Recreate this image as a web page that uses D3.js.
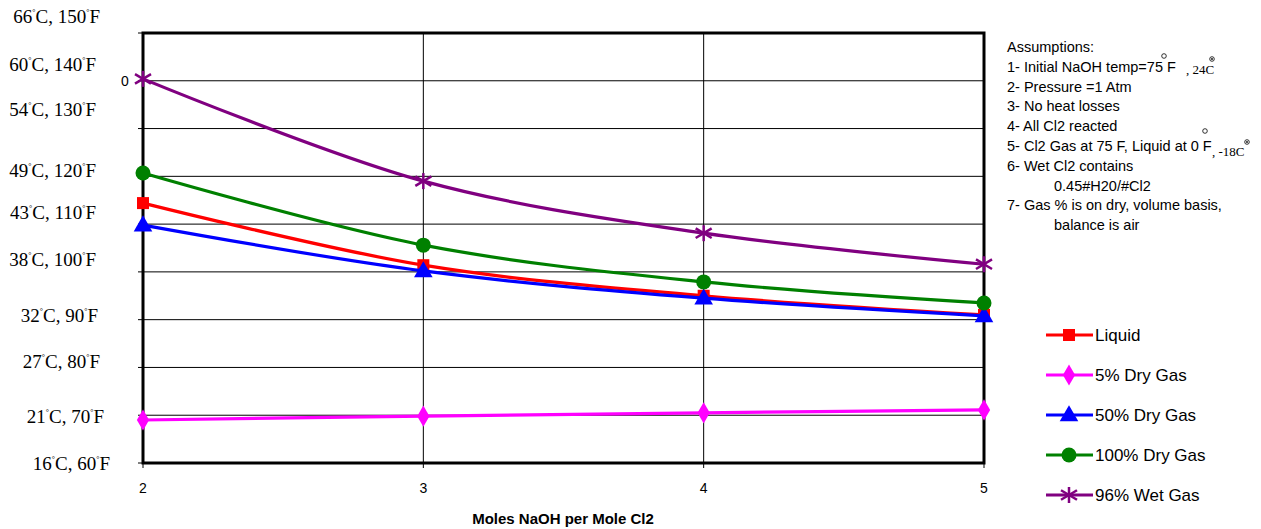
<!DOCTYPE html>
<html>
<head>
<meta charset="utf-8">
<script src="https://cdn.jsdelivr.net/npm/d3@7"></script>
<style>
body { margin:0; background:#fff; }
text { font-family: Arial, "Liberation Sans", sans-serif; }
</style>
</head>
<body>
<div class="c_chart"></div>
<script>
/* DATA
------------------------------------------------------
*/
const moles = [2, 3, 4, 5];
const liquid = [114.4, 101.4, 95.0, 91.0];
const dry5 = [69.0, 69.8, 70.5, 71.1];
const dry50 = [109.8, 100.2, 94.5, 90.8];
const dry100 = [120.7, 105.6, 97.9, 93.5];
const wet96 = [140.4, 119.0, 108.1, 101.6];
const seriesNames = ["Liquid", "5% Dry Gas", "50% Dry Gas", "100% Dry Gas", "96% Wet Gas"];
const yTicksF = [150, 140, 130, 120, 110, 100, 90, 80, 70, 60];
const yTicksC = [66, 60, 54, 49, 43, 38, 32, 27, 21, 16];
const assumptions = [
	"Assumptions:",
	"1- Initial NaOH temp=75 F",
	"2- Pressure =1 Atm",
	"3- No heat losses",
	"4- All Cl2 reacted",
	"5- Cl2 Gas at 75 F, Liquid at 0 F",
	"6- Wet Cl2 contains",
	"0.45#H20/#Cl2",
	"7- Gas % is on dry, volume basis,",
	"balance is air"
];

/* SETUP
------------------------------------------------------
*/
const width = 1261, height = 529;
const plot = {left:143, right:984, top:33, bottom:463};

const svg = d3.select(".c_chart").append("svg")
	.attr("width", width)
	.attr("height", height);

const x = d3.scaleLinear().domain([2, 5]).range([plot.left, plot.right]);
const y = d3.scaleLinear().domain([60, 150]).range([plot.bottom, plot.top]);

const series = [
	{name:seriesNames[0], values:liquid, color:"#ff0000", marker:"square"},
	{name:seriesNames[1], values:dry5, color:"#ff00ff", marker:"diamond"},
	{name:seriesNames[2], values:dry50, color:"#0000ff", marker:"triangle"},
	{name:seriesNames[3], values:dry100, color:"#008000", marker:"circle"},
	{name:seriesNames[4], values:wet96, color:"#800080", marker:"star"}
];

/* GRID
------------------------------------------------------
*/
svg.append("g")
	.selectAll("line")
	.data(yTicksF)
	.enter().append("line")
	.attr("x1", plot.left).attr("x2", plot.right)
	.attr("y1", d => y(d)).attr("y2", d => y(d))
	.attr("stroke", "#000").attr("stroke-width", 1);

svg.append("g")
	.selectAll("line")
	.data(moles)
	.enter().append("line")
	.attr("x1", d => x(d)).attr("x2", d => x(d))
	.attr("y1", plot.top).attr("y2", plot.bottom)
	.attr("stroke", "#000").attr("stroke-width", 1);

// small ticks left and below
svg.append("g").selectAll("line")
	.data(yTicksF).enter().append("line")
	.attr("x1", plot.left - 5).attr("x2", plot.left)
	.attr("y1", d => y(d)).attr("y2", d => y(d))
	.attr("stroke", "#000");
svg.append("g").selectAll("line")
	.data(moles).enter().append("line")
	.attr("x1", d => x(d)).attr("x2", d => x(d))
	.attr("y1", plot.bottom).attr("y2", plot.bottom + 5)
	.attr("stroke", "#000");

// frame
svg.append("rect")
	.attr("x", plot.left).attr("y", plot.top)
	.attr("width", plot.right - plot.left)
	.attr("height", plot.bottom - plot.top)
	.attr("fill", "none").attr("stroke", "#000").attr("stroke-width", 3);

/* AXIS LABELS
------------------------------------------------------
*/
// label nudges to follow the original text boxes
const nudgeY = [-10, -10, -13, 1, -5, -6, 2, 1, 8, 7];
const rightX = [100, 96, 96, 96, 96, 96, 98, 100, 104, 110];

const yl = svg.append("g");
yTicksF.forEach(function(f, i){
	const t = yl.append("text")
		.attr("x", rightX[i])
		.attr("y", y(f) + nudgeY[i])
		.attr("text-anchor", "end")
		.attr("font-size", 19)
		.style("font-family", "'Liberation Serif', 'Times New Roman', serif");
	t.append("tspan").text(yTicksC[i]);
	t.append("tspan").attr("font-size", 8).attr("baseline-shift", 8).text("°");
	t.append("tspan").text("C, " + f);
	t.append("tspan").attr("font-size", 8).attr("baseline-shift", 8).text("°");
	t.append("tspan").text("F");
});

svg.append("text")
	.attr("x", 125).attr("y", y(140) + 5)
	.attr("text-anchor", "middle")
	.attr("font-size", 14)
	.text("0");

svg.append("g").selectAll("text")
	.data(moles).enter().append("text")
	.attr("x", d => x(d))
	.attr("y", 493)
	.attr("text-anchor", "middle")
	.attr("font-size", 14)
	.text(d => d);

svg.append("text")
	.attr("x", 563).attr("y", 524)
	.attr("text-anchor", "middle")
	.attr("font-size", 15)
	.attr("font-weight", "bold")
	.text("Moles NaOH per Mole Cl2");

/* LINES
------------------------------------------------------
*/
const line = d3.line()
	.x((d, i) => x(moles[i]))
	.y(d => y(d))
	.curve(d3.curveCatmullRom.alpha(0.5));

function drawMarker(g, type, color, cx, cy){
	if(type === "square"){
		g.append("rect").attr("x", cx - 6).attr("y", cy - 6).attr("width", 12).attr("height", 12).attr("fill", color);
	} else if(type === "diamond"){
		g.append("path").attr("d", d3.symbol(d3.symbolDiamond, 130)()).attr("transform", `translate(${cx},${cy})`).attr("fill", color);
	} else if(type === "triangle"){
		g.append("path").attr("d", d3.symbol(d3.symbolTriangle, 150)()).attr("transform", `translate(${cx},${cy + 1})`).attr("fill", color);
	} else if(type === "circle"){
		g.append("circle").attr("cx", cx).attr("cy", cy).attr("r", 7.5).attr("fill", color);
	} else if(type === "star"){
		const r = 8;
		[[0, -r, 0, r], [-r, -r * 0.6, r, r * 0.6], [-r, r * 0.6, r, -r * 0.6]].forEach(function(s){
			g.append("line")
				.attr("x1", cx + s[0]).attr("y1", cy + s[1])
				.attr("x2", cx + s[2]).attr("y2", cy + s[3])
				.attr("stroke", color).attr("stroke-width", 2.5);
		});
	}
}

series.forEach(function(s){
	const g = svg.append("g");
	g.append("path")
		.attr("d", line(s.values))
		.attr("fill", "none")
		.attr("stroke", s.color)
		.attr("stroke-width", 3.2);
	s.values.forEach(function(v, i){
		drawMarker(g, s.marker, s.color, x(moles[i]), y(v));
	});
});

/* LEGEND
------------------------------------------------------
*/
const legend = svg.append("g");
series.forEach(function(s, i){
	const ly = 335 + i * 40;
	legend.append("line")
		.attr("x1", 1046).attr("x2", 1093)
		.attr("y1", ly).attr("y2", ly)
		.attr("stroke", s.color).attr("stroke-width", 3);
	drawMarker(legend, s.marker, s.color, 1069, ly);
	legend.append("text")
		.attr("x", 1095).attr("y", ly + 6)
		.attr("font-size", 17)
		.text(s.name);
});

/* ASSUMPTIONS
------------------------------------------------------
*/
const notes = svg.append("g");
assumptions.forEach(function(a, i){
	const indent = (a === "0.45#H20/#Cl2" || a === "balance is air") ? 1054 : 1007;
	notes.append("text")
		.attr("x", indent)
		.attr("y", 52 + i * 19.8)
		.attr("font-size", 14.5)
		.text(a);
});
// degree marks and celsius notes
function degree(cx, cy, dot){
	notes.append("circle").attr("cx", cx).attr("cy", cy).attr("r", 2.3)
		.attr("fill", "none").attr("stroke", "#000").attr("stroke-width", 0.8);
	if(dot) notes.append("circle").attr("cx", cx).attr("cy", cy).attr("r", 0.9).attr("fill", "#000");
}
degree(1164, 56, false);
notes.append("text").attr("x", 1186).attr("y", 74)
	.style("font-family", "'Liberation Serif', serif").attr("font-size", 13).text(", 24C");
degree(1212, 59, true);
degree(1205, 131, false);
notes.append("text").attr("x", 1212).attr("y", 156)
	.style("font-family", "'Liberation Serif', serif").attr("font-size", 13).text(", -18C");
degree(1247, 142, true);
</script>
</body>
</html>
